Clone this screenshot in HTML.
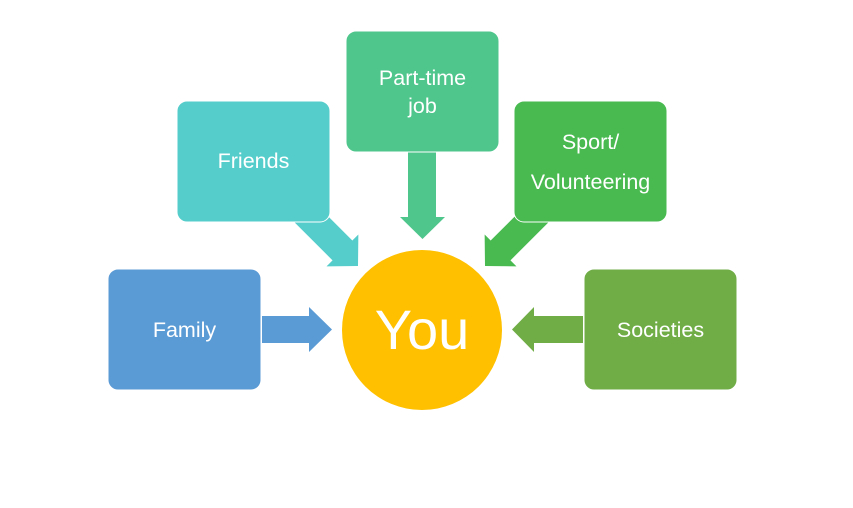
<!DOCTYPE html>
<html><head><meta charset="utf-8"><style>
body{margin:0;background:#fff;}
svg text{font-family:"Liberation Sans",sans-serif;fill:#fff;text-anchor:middle;}
</style></head><body>
<svg width="853" height="503" viewBox="0 0 853 503" xmlns="http://www.w3.org/2000/svg">
<!-- arrows -->
<polygon points="262,316 309,316 309,307 332,329.5 309,352 309,343 262,343" fill="#5B9BD5"/>
<polygon points="583,316 534,316 534,307 512,329.5 534,352 534,343 583,343" fill="#70AD47"/>
<polygon points="408,150 436,150 436,217 445,217 422.5,239 400,217 408,217" fill="#4FC68C"/>
<g transform="translate(358,266) rotate(225)">
<polygon points="0,0 22,-22.5 22,-14 95,-14 95,14 22,14 22,22.5" fill="#55CDCB"/>
</g>
<g transform="translate(485,266) rotate(-45)">
<polygon points="0,0 22,-22.5 22,-14 95,-14 95,14 22,14 22,22.5" fill="#48BA50"/>
</g>
<!-- boxes -->
<rect x="108" y="269" width="153" height="121" rx="10" fill="#5B9BD5" stroke="#fff" stroke-width="1"/>
<rect x="177" y="101" width="153" height="121" rx="10" fill="#55CDCB" stroke="#fff" stroke-width="1"/>
<rect x="346" y="31" width="153" height="121" rx="10" fill="#4FC68C" stroke="#fff" stroke-width="1"/>
<rect x="514" y="101" width="153" height="121" rx="10" fill="#48BA50" stroke="#fff" stroke-width="1"/>
<rect x="584" y="269" width="153" height="121" rx="10" fill="#70AD47" stroke="#fff" stroke-width="1"/>
<circle cx="422" cy="330" r="80" fill="#FFC000"/>
<!-- labels -->
<text x="184.5" y="337" font-size="21.5">Family</text>
<text x="253.5" y="168" font-size="21.5">Friends</text>
<text x="422.5" y="85" font-size="21.5">Part-time</text>
<text x="422.5" y="113" font-size="21.5">job</text>
<text x="590.5" y="149" font-size="21.5">Sport/</text>
<text x="590.5" y="189" font-size="21.5">Volunteering</text>
<text x="660.5" y="337" font-size="21.5">Societies</text>
<text x="422" y="349" font-size="56">You</text>
</svg>
</body></html>
